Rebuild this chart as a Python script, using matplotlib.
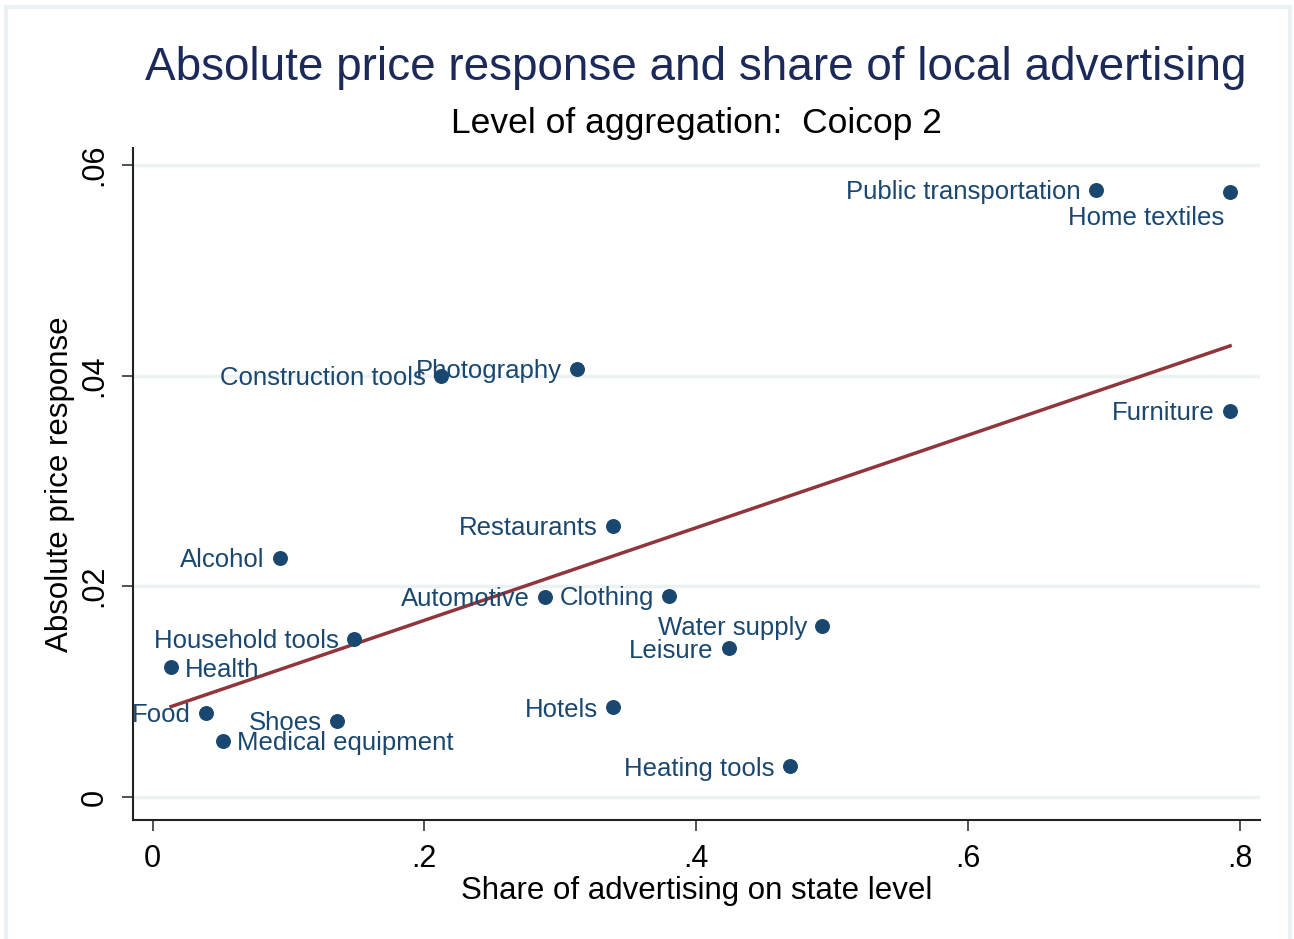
#Scatter of absolute price response against share of local advertising (Coicop 2)

from matplotlib import pyplot as plt
from matplotlib.patches import Rectangle
import numpy as np

plt.rcParams['font.family'] = ['Liberation Sans', 'DejaVu Sans']

# categories and values
categories = ['Public transportation', 'Home textiles', 'Furniture', 'Photography',
              'Construction tools', 'Restaurants', 'Alcohol', 'Automotive', 'Clothing',
              'Water supply', 'Leisure', 'Household tools', 'Health', 'Hotels', 'Food',
              'Shoes', 'Medical equipment', 'Heating tools']
share_state = [0.694, 0.793, 0.793, 0.3125, 0.2123, 0.339, 0.0938, 0.289, 0.380,
               0.493, 0.424, 0.148, 0.0136, 0.339, 0.0394, 0.136, 0.052, 0.469]
price_response = [0.0576, 0.0574, 0.0366, 0.0406, 0.0400, 0.0257, 0.0227, 0.0190, 0.0191,
                  0.0162, 0.0141, 0.0150, 0.0123, 0.0085, 0.0080, 0.0072, 0.0053, 0.0029]
# stata clock position of each marker label (9 = left, 3 = right, 7 = lower left)
label_pos = [9, 7, 9, 9, 9, 9, 9, 9, 9, 9, 9, 9, 3, 9, 9, 9, 3, 9]

x_ticks = [0, 0.2, 0.4, 0.6, 0.8]
x_ticklabels = ['0', '.2', '.4', '.6', '.8']
y_ticks = [0, 0.02, 0.04, 0.06]
y_ticklabels = ['0', '.02', '.04', '.06']

navy = '#1a476f'
maroon = '#90353b'
grid_col = '#eaf2f3'

fig = plt.figure(figsize=(12.94, 9.39), dpi=100)
ax = fig.add_axes([133/1294, 1-820/939, (1260-133)/1294, (820-148)/939])

# light outer frame like stata's graph region
fig.patches.append(Rectangle((6/1294, -0.05), (1290-6)/1294, 1.05-7/939, transform=fig.transFigure,
                             fill=False, edgecolor=grid_col, linewidth=3))

x = np.array(share_state)
y = np.array(price_response)

ax.scatter(x, y, s=95, color=navy, zorder=3)

# linear fit over range of x
b, a = np.polyfit(x, y, 1)
xs = np.array([x.min(), x.max()])
ax.plot(xs, a + b*xs, color=maroon, linewidth=2.5, zorder=2)

for name, xi, yi, pos in zip(categories, x, y, label_pos):
    if pos == 9:
        off, ha, va = (-11, -1.5), 'right', 'center'
    elif pos == 3:
        off, ha, va = (10, -1.5), 'left', 'center'
    else:
        off, ha, va = (-4, -10), 'right', 'top'
    ax.annotate(name, (xi, yi), xytext=off, textcoords='offset points', ha=ha, va=va,
                fontsize=18.5, color=navy, zorder=4)

ax.set_xlim(-0.0144, 0.815)
ax.set_ylim(-0.00218, 0.0616)
ax.set_xticks(x_ticks)
ax.set_xticklabels(x_ticklabels)
ax.set_yticks(y_ticks)
ax.set_yticklabels(y_ticklabels, rotation=90, va='center')
ax.tick_params(labelsize=22, length=8, width=1.2, color='#333333', pad=9)
ax.grid(axis='y', color=grid_col, linewidth=2.5)
ax.set_axisbelow(True)
for s in ['top', 'right']:
    ax.spines[s].set_visible(False)
for s in ['left', 'bottom']:
    ax.spines[s].set_linewidth(1.5)
    ax.spines[s].set_color('#222222')

ax.set_xlabel('Share of advertising on state level', fontsize=22.5, labelpad=2)
ax.set_ylabel('Absolute price response', fontsize=22.5, labelpad=3)

fig.text(696/1294, 1-68/939, 'Absolute price response and share of local advertising',
         ha='center', va='center', fontsize=33, color='#1c2a5a')
fig.text(696/1294, 1-123/939, 'Level of aggregation:  Coicop 2',
         ha='center', va='center', fontsize=25.5, color='black')

plt.savefig('out.png', dpi=100)
